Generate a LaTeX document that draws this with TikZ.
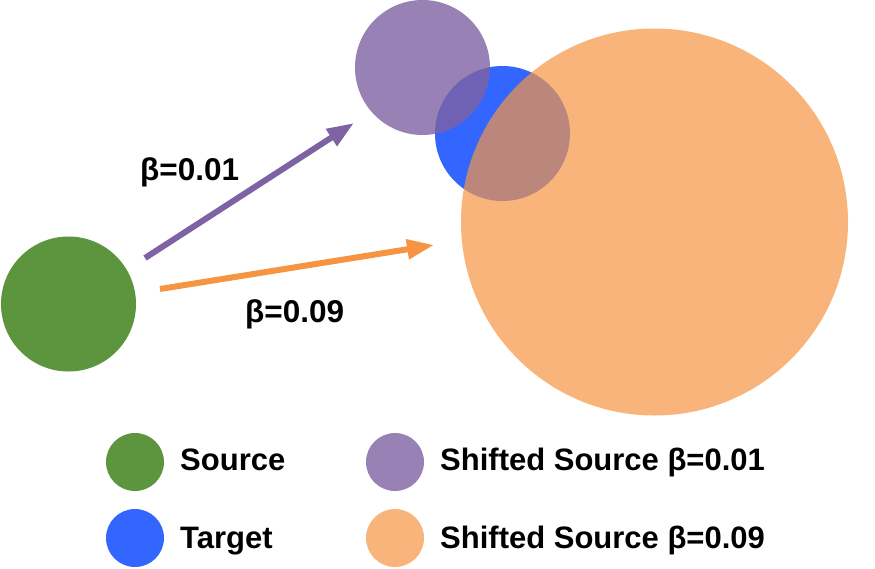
\documentclass[tikz,border=0pt]{standalone}
\usepackage{fontspec}
\setmainfont{Liberation Sans}
\usetikzlibrary{arrows.meta}
\definecolor{cgreen}{RGB}{93,148,62}
\definecolor{cblue}{RGB}{51,102,255}
\definecolor{cpurple}{RGB}{126,98,163}
\definecolor{corange}{RGB}{246,148,67}
\tikzset{
  blob/.style={circle, inner sep=0pt, draw=none},
  greenblob/.style={blob, fill=cgreen},
  blueblob/.style={blob, fill=cblue},
  purpleblob/.style={blob, fill=cpurple, fill opacity=0.8},
  orangeblob/.style={blob, fill=corange, fill opacity=0.7},
  lbl/.style={inner sep=0pt, anchor=base west, font=\fontsize{31}{37}\selectfont\bfseries},
  arr/.style={line width=6pt, -{Triangle[length=27pt, width=19pt]}}
}
\begin{document}
\begin{tikzpicture}[x=1pt, y=-1pt]
\useasboundingbox (0,0) rectangle (875,568);
% main circles
\node[greenblob, minimum size=135pt] (src) at (68.5,304) {};
\node[blueblob, minimum size=135pt] (tgt) at (502.5,133.5) {};
\node[purpleblob, minimum size=135pt] (s1) at (422.5,67.5) {};
\node[orangeblob, minimum size=387pt] (s9) at (654.5,222) {};
% arrows
\coordinate (a1s) at (145,258);
\coordinate (a1e) at (354,123);
\coordinate (a9s) at (160,289);
\coordinate (a9e) at (434,245);
\draw[arr, draw=cpurple] (a1s) -- (a1e);
\draw[arr, draw=corange] (a9s) -- (a9e);
\node[lbl, font=\fontsize{31.5}{37}\selectfont\bfseries] (l1) at (140,180) {β=0.01};
\node[lbl, font=\fontsize{31.5}{37}\selectfont\bfseries] (l9) at (245,322) {β=0.09};
% legend
\node[greenblob, minimum size=58pt] (lg) at (135,462) {};
\node[blueblob, minimum size=58pt] (lb) at (135,538) {};
\node[purpleblob, minimum size=58pt] (lp) at (395,462) {};
\node[orangeblob, minimum size=58pt] (lo) at (395,538) {};
\node[lbl] (tg) at (180,470) {Source};
\node[lbl] (tb) at (180,548) {Target};
\node[lbl] (tp) at (440,470) {Shifted Source β=0.01};
\node[lbl] (to) at (440,548) {Shifted Source β=0.09};
\end{tikzpicture}
\end{document}
